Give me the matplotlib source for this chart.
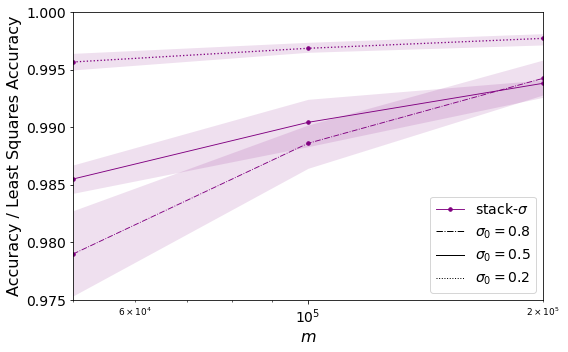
import matplotlib
matplotlib.use("Agg")
import matplotlib.pyplot as plt
from matplotlib.lines import Line2D
import numpy as np

m_values = [5e4, 1e5, 2e5]

sigma_labels = ["0.8", "0.5", "0.2"]
linestyles = ["-.", "-", ":"]

mean_08 = [0.97899, 0.98860, 0.99424]
low_08 = [0.97535, 0.98643, 0.99280]
high_08 = [0.98275, 0.99019, 0.99583]

mean_05 = [0.98550, 0.99042, 0.99381]
low_05 = [0.98426, 0.98831, 0.99259]
high_05 = [0.98672, 0.99242, 0.99410]

mean_02 = [0.99566, 0.99685, 0.99771]
low_02 = [0.99497, 0.99650, 0.99714]
high_02 = [0.99641, 0.99737, 0.99812]

means = [mean_08, mean_05, mean_02]
lows = [low_08, low_05, low_02]
highs = [high_08, high_05, high_02]

fig = plt.figure(figsize=(568/72, 352/72), dpi=72)
ax = fig.add_axes([73/568, 1-300/352, 470/568, 288/352])

color = "purple"
for mu, lo, hi, ls in zip(means, lows, highs, linestyles):
    ax.fill_between(m_values, lo, hi, color=color, alpha=0.12, linewidth=0)
    ax.plot(m_values, mu, color=color, linestyle=ls, marker="o", markersize=3.5,
            linewidth=1.3 if ls == ":" else 0.9)

ax.set_xscale("log")
ax.set_xlim(5e4, 2e5)
ax.set_ylim(0.975, 1.0)
ax.set_yticks([0.975, 0.980, 0.985, 0.990, 0.995, 1.000])
ax.tick_params(axis="both", which="major", labelsize=14)
ax.tick_params(axis="x", which="minor", labelsize=9)
ax.set_xlabel(r"$m$", fontsize=16)
ax.set_ylabel("Accuracy / Least Squares Accuracy", fontsize=16)

handles = [Line2D([], [], color=color, marker="o", markersize=3.5, linewidth=0.9)]
labels = [r"stack-$\sigma$"]
for s, ls in zip(sigma_labels, linestyles):
    handles.append(Line2D([], [], color="black", linestyle=ls, linewidth=1.0))
    labels.append(r"$\sigma_0 = %s$" % s)
ax.legend(handles, labels, loc="lower right", fontsize=14)

fig.savefig("out.png", dpi=72)
